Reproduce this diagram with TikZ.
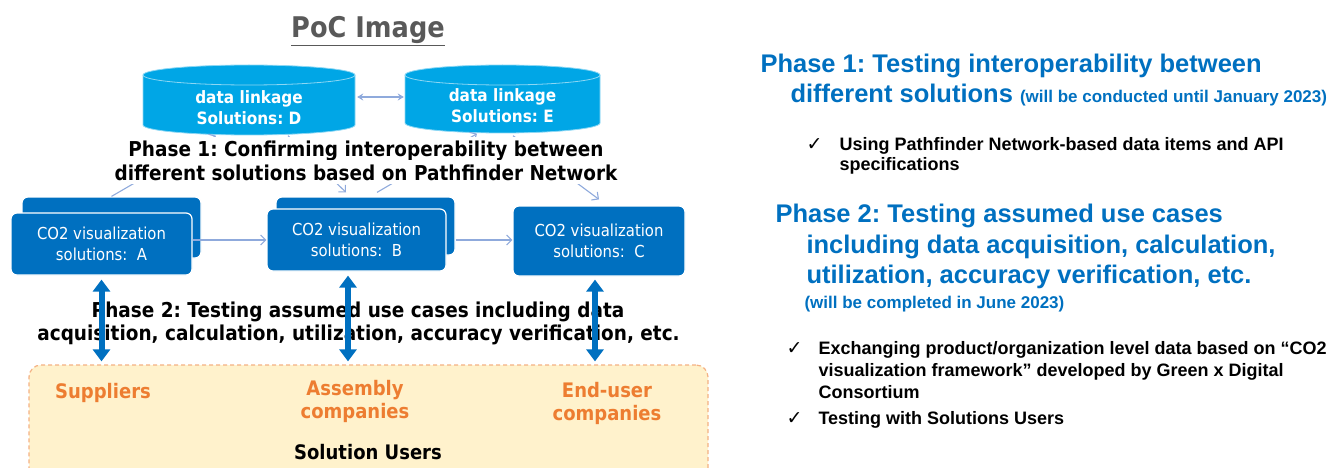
\documentclass[tikz,border=0pt]{standalone}
\usepackage{fontspec}
\setmainfont{Liberation Sans}
\newfontfamily\tahoma[FakeStretch=0.9]{DejaVu Sans}
\newfontfamily\tickfont{DejaVu Sans}
\usetikzlibrary{arrows.meta}
\frenchspacing

\definecolor{dbblue}{RGB}{0,166,230}
\definecolor{solblue}{RGB}{0,112,192}
\definecolor{linkblue}{RGB}{143,170,220}
\definecolor{userfill}{RGB}{255,242,204}
\definecolor{userline}{RGB}{244,177,131}
\definecolor{userorange}{RGB}{237,125,49}
\definecolor{titlegray}{RGB}{89,89,89}

\tikzset{
 solbox/.style={rectangle, rounded corners=6pt, fill=solblue, draw=white, line width=1.2pt,
   text=white, align=center, inner sep=0pt, font=\tahoma\fontsize{16.5}{20.5}\selectfont},
 dbtext/.style={rectangle, text=white, align=center, inner sep=0pt,
   font=\tahoma\bfseries\fontsize{17}{21}\selectfont},
 dbshape/.style={fill=dbblue, draw=white!55!dbblue, line width=0.8pt},
 link/.style={draw=linkblue, line width=1.1pt, -{Straight Barb[length=5pt,width=10pt]}},
 biglink/.style={draw=solblue, line width=6pt, shorten >=3pt,
   {Triangle[width=17pt,length=12pt]}-{Triangle[width=17pt,length=12pt]}},
 phase/.style={anchor=base, font=\tahoma\bfseries\fontsize{20.5}{23}\selectfont},
 user/.style={text=userorange, align=center, font=\tahoma\bfseries\fontsize{20}{23}\selectfont},
 head/.style={text=solblue, anchor=base west, font=\bfseries\fontsize{25.5}{30}\selectfont},
 headnote/.style={text=solblue, anchor=base west, font=\bfseries\fontsize{17}{20}\selectfont},
 item/.style={anchor=base west, font=\bfseries\fontsize{18}{21}\selectfont},
 tick/.style={anchor=base west, font=\tickfont\fontsize{19}{21}\selectfont},
}

\begin{document}
\begin{tikzpicture}[x=1pt,y=1pt]
 \useasboundingbox (0,0) rectangle (1336,-468);

% Title
 \node[anchor=base, text=titlegray, font=\tahoma\bfseries\fontsize{28.5}{34}\selectfont] (title) at (368,-38) {\underline{PoC Image}};

% data linkage
 \draw[dbshape] (143,-75) -- (143,-125) arc (180:360:106pt and 10pt) -- (355,-75) arc (0:180:106pt and 10pt) -- cycle;
 \draw[draw=white!55!dbblue, line width=0.8pt] (143,-75) arc (180:360:106pt and 10pt);
 \node[dbtext, minimum width=212pt, minimum height=56pt] (D) at (249,-107.5) {data linkage\\Solutions: D};

 \draw[dbshape] (405,-75) -- (405,-123) arc (180:360:97.5pt and 10pt) -- (600,-75) arc (0:180:97.5pt and 10pt) -- cycle;
 \draw[draw=white!55!dbblue, line width=0.8pt] (405,-75) arc (180:360:97.5pt and 10pt);
 \node[dbtext, minimum width=195pt, minimum height=55pt] (E) at (502.5,-106) {data linkage\\Solutions: E};

% CO2 visualization
 \node[solbox, minimum width=179pt, minimum height=61pt] (Aback) at (111.5,-227.5) {};
 \node[solbox, minimum width=181pt, minimum height=62pt] (A) at (101.5,-244) {CO2 visualization\\solutions:\ \ A};
 \node[solbox, minimum width=179pt, minimum height=58pt] (Bback) at (365.5,-226) {};
 \node[solbox, minimum width=179pt, minimum height=62pt] (B) at (356.5,-240) {CO2 visualization\\solutions:\ \ B};
 \node[solbox, minimum width=172pt, minimum height=70pt] (C) at (599,-241) {CO2 visualization\\solutions:\ \ C};

% Arrows
 \draw[linkblue, line width=1.1pt, {Stealth[length=6pt,width=7pt]}-{Stealth[length=6pt,width=7pt]}]
   ([xshift=2pt,yshift=10.5pt]D.east) -- ([xshift=-1pt,yshift=9pt]E.west);
 \draw[link] (Aback.north) -- ([xshift=-33pt]D.south);
 \draw[link] ([xshift=39pt]D.south) -- ([xshift=-19.5pt,yshift=4pt]Bback.north);
 \draw[link] ([xshift=11.5pt,yshift=4pt]Bback.north) -- ([xshift=-25.5pt]E.south);
 \draw[link] ([xshift=10.5pt,yshift=-2pt]E.south) -- ([yshift=6pt]C.north);
 \draw[link] ([yshift=4pt]A.east) -- (B.west);
 \draw[link] (Bback.east |- B.east) -- (C.west |- B.east);

% Phase 1
 \node[phase, fill=white, inner xsep=2pt, inner ysep=4pt] (ph1a) at (366,-157) {Phase 1: Confirming interoperability between};
 \node[phase, fill=white, inner xsep=2pt, inner ysep=4pt] (ph1b) at (366,-180) {different solutions based on Pathfinder Network};

% Solution users
 \node[draw=userline, fill=userfill, dash pattern=on 4pt off 3pt, line width=1.2pt, rounded corners=12pt,
   minimum width=679pt, minimum height=125pt, inner sep=0pt] (users) at (368.5,-427.5) {};
 \node[user] (sup) at (103,-393) {Suppliers};
 \node[user] (asm) at (355,-401) {Assembly\\companies};
 \node[user] (end) at (607,-403) {End-user\\companies};
 \node[font=\tahoma\bfseries\fontsize{20}{23}\selectfont] (sol) at (368,-452) {Solution Users};

% Phase 2
 \node[phase] (ph2a) at (358,-317) {Phase 2: Testing assumed use cases including data};
 \node[phase] (ph2b) at (358.5,-340) {acquisition, calculation, utilization, accuracy verification, etc.};

 \coordinate (uA) at ([yshift=-4pt]A.south);
 \coordinate (uB) at ([xshift=-8.5pt,yshift=-4pt]B.south);
 \coordinate (uC) at ([xshift=-4pt,yshift=-3pt]C.south);
 \draw[biglink] (uA) -- (uA |- users.north);
 \draw[biglink] (uB) -- (uB |- users.north);
 \draw[biglink] (uC) -- (uC |- users.north);

% Right side
 \node[head] (h1a) at (757,-73) {Phase 1: Testing interoperability between};
 \node[head] (h1b) at (787,-103) {different solutions {\fontsize{17}{20}\selectfont (will be conducted until January 2023)}};
 \node[tick] (t1) at (803,-151) {✓};
 \node[item] (i1a) at (836,-151) {Using Pathfinder Network-based data items and API};
 \node[item] (i1b) at (836,-171) {specifications};

 \node[head] (h2a) at (772,-222) {Phase 2: Testing assumed use cases};
 \node[head] (h2b) at (803,-253) {including data acquisition, calculation,};
 \node[head] (h2c) at (803,-283) {utilization, accuracy verification, etc.};
 \node[headnote] (h2d) at (801,-308) {(will be completed in June 2023)};
 \node[tick] (t2) at (783,-354) {✓};
 \node[item] (i2a) at (815,-354) {Exchanging product/organization level data based on “CO2};
 \node[item] (i2b) at (815,-376) {visualization framework” developed by Green x Digital};
 \node[item] (i2c) at (815,-398) {Consortium};
 \node[tick] (t3) at (783,-424) {✓};
 \node[item] (i2d) at (815,-424) {Testing with Solutions Users};

\end{tikzpicture}
\end{document}
